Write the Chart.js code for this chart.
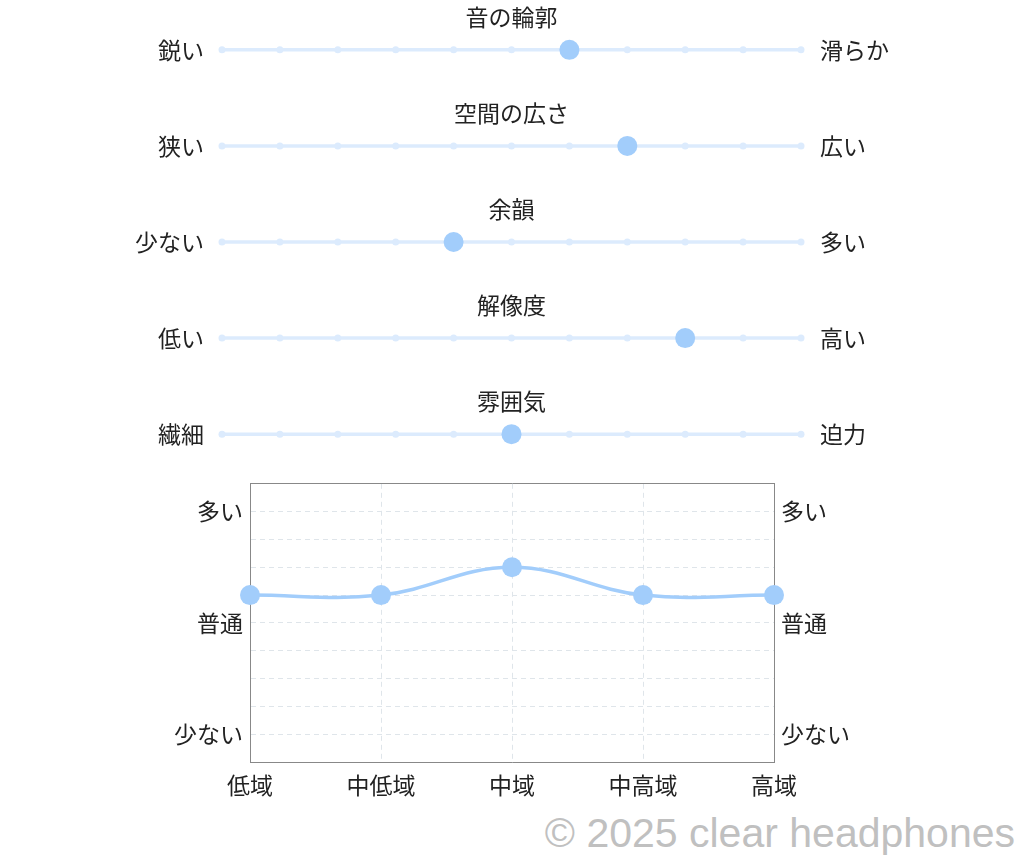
<!DOCTYPE html>
<html lang="ja">
<head>
<meta charset="utf-8">
<script src="https://cdn.jsdelivr.net/npm/chart.js@4"></script>
<style>
  html, body { margin: 0; padding: 0; background: #fff; }
  body { width: 1024px; height: 864px; position: relative; overflow: hidden; }
  .box { position: absolute; left: 0; width: 1024px; }
  #sliderBox { top: -12px; height: 508px; }
  #lineBox { top: 463px; height: 339px; }
  #credit {
    position: absolute; right: 9px; top: 810px;
    font-family: "Liberation Sans", Arial, sans-serif; font-size: 41px;
    color: #c0c0c0; white-space: nowrap;
  }
</style>
</head>
<body>
<div class="box" id="sliderBox"><canvas id="sliders"></canvas></div>
<div class="box" id="lineBox"><canvas id="freq"></canvas></div>
<div id="credit">© 2025 clear headphones</div>
<script>
// Data
const sliderTitles = ['音の輪郭', '空間の広さ', '余韻', '解像度', '雰囲気'];
const leftLabels = ['鋭い', '狭い', '少ない', '低い', '繊細'];
const rightLabels = ['滑らか', '広い', '多い', '高い', '迫力'];
const sliderValues = [6, 7, 4, 8, 5];
const sliderSteps = [0, 1, 2, 3, 4, 5, 6, 7, 8, 9, 10];

const bands = ['低域', '中低域', '中域', '中高域', '高域'];
const bandValues = [6, 6, 7, 6, 6];
const levelSteps = [0, 1, 2, 3, 4, 5, 6, 7, 8, 9, 10];
const levelLabels = { 9: '多い', 5: '普通', 1: '少ない' };

// Styles
const FONT = '"Noto Sans CJK JP", "Noto Sans", sans-serif';
const TEXT = '#222';
const TRACK = '#dcebfd';
const MARK = '#a2cdfb';

Chart.defaults.font.family = FONT;
Chart.defaults.color = TEXT;
Chart.defaults.animation = false;

// marker dataset first so it sits on top of the tracks
let sliderSets = [{
    data: sliderValues.map((v, row) => ({ x: v, y: row })),
    showLine: false,
    backgroundColor: MARK,
    borderColor: MARK,
    pointRadius: 10,
    pointBorderWidth: 0,
    clip: false,
    order: 0,
}];
// one track per row, drawn from the step list
sliderTitles.forEach((t, row) => {
    sliderSets.push({
        data: sliderSteps.map((s) => ({ x: s, y: row })),
        showLine: true,
        borderColor: TRACK,
        backgroundColor: TRACK,
        borderWidth: 3.5,
        pointRadius: 3.5,
        pointBorderWidth: 0,
        clip: false,
        order: 1,
    });
});

const rowTicks = (scale) => {
    scale.ticks = sliderTitles.map((t, i) => ({ value: i }));
};

const titlePlugin = {
    id: 'rowTitles',
    afterDraw(chart) {
        const { ctx, chartArea, scales } = chart;
        ctx.save();
        ctx.font = '23px ' + FONT;
        ctx.fillStyle = TEXT;
        ctx.textAlign = 'center';
        ctx.textBaseline = 'middle';
        sliderTitles.forEach((t, i) => {
            ctx.fillText(t, (chartArea.left + chartArea.right) / 2, scales.y.getPixelForValue(i) - 33);
        });
        ctx.restore();
    }
};

new Chart(document.getElementById('sliders'), {
    type: 'scatter',
    data: { datasets: sliderSets },
    options: {
        responsive: true,
        maintainAspectRatio: false,
        plugins: { legend: { display: false }, tooltip: { enabled: false } },
        scales: {
            x: { type: 'linear', min: 0, max: 10, display: false },
            y: {
                type: 'linear', min: -0.5, max: 4.5, reverse: true, position: 'left',
                grid: { display: false, tickLength: 18 }, border: { display: false },
                afterBuildTicks: rowTicks,
                afterFit(scale) { scale.width = 222; },
                ticks: { padding: 0, autoSkip: false, font: { size: 23 }, color: TEXT, callback: (v) => leftLabels[v] },
            },
            y2: {
                type: 'linear', min: -0.5, max: 4.5, reverse: true, position: 'right',
                grid: { display: false, tickLength: 19 }, border: { display: false },
                afterBuildTicks: rowTicks,
                afterFit(scale) { scale.width = 223; },
                ticks: { padding: 0, autoSkip: false, font: { size: 23 }, color: TEXT, callback: (v) => rightLabels[v] },
            },
        },
    },
    plugins: [titlePlugin],
});

const levelTicks = (scale) => {
    scale.ticks = levelSteps.map((v) => ({ value: v }));
};

new Chart(document.getElementById('freq'), {
    type: 'line',
    data: {
        labels: bands,
        datasets: [{
            data: bandValues,
            borderColor: MARK,
            backgroundColor: MARK,
            borderWidth: 3.5,
            tension: 0.4,
            pointRadius: 10,
            pointBorderWidth: 0,
            clip: false,
        }]
    },
    options: {
        responsive: true,
        maintainAspectRatio: false,
        plugins: { legend: { display: false }, tooltip: { enabled: false } },
        scales: {
            x: {
                grid: { color: '#dfe5ea', drawTicks: false },
                border: { color: '#888', dash: [5, 4] },
                afterFit(scale) { scale.height = 40; },
                ticks: { padding: 9, autoSkip: false, font: { size: 23 }, color: TEXT, maxRotation: 0 },
            },
            xTop: {
                type: 'category', position: 'top',
                grid: { display: false, drawTicks: false },
                border: { color: '#888' },
                ticks: { display: false },
            },
            y: {
                min: 0, max: 10, position: 'left',
                grid: { color: '#dfe5ea', drawTicks: false },
                border: { color: '#888', dash: [5, 4] },
                afterBuildTicks: levelTicks,
                afterFit(scale) { scale.width = 250; },
                ticks: { padding: 7, autoSkip: false, font: { size: 23 }, color: TEXT, callback: (v) => levelLabels[v] || '' },
            },
            y2: {
                min: 0, max: 10, position: 'right',
                grid: { display: false, drawTicks: false },
                border: { color: '#888' },
                afterBuildTicks: levelTicks,
                afterFit(scale) { scale.width = 250; },
                ticks: { padding: 7, autoSkip: false, font: { size: 23 }, color: TEXT, callback: (v) => levelLabels[v] || '' },
            },
        },
    },
});
</script>
</body>
</html>
